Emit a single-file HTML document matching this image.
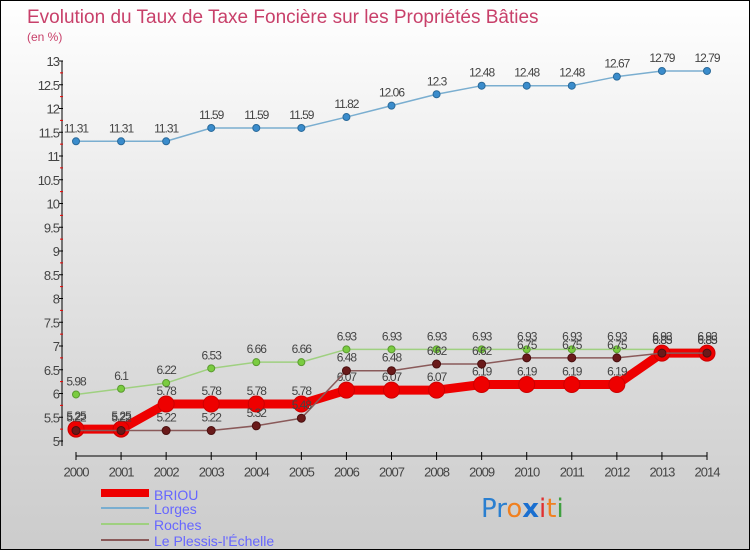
<!DOCTYPE html>
<html><head><meta charset="utf-8"><style>
body{margin:0}
#c{position:relative;width:748px;height:548px;border:1px solid #000;background:linear-gradient(#fff 0%,#eee 30%,#d9d9d9 70%,#ccc 100%);font-family:"Liberation Sans",sans-serif;overflow:hidden}
svg{position:absolute;left:0;top:0}
</style></head><body>
<div id="c">
<svg id="s" width="750" height="550">
<text x="26" y="22" font-size="19" fill="#c8406a">Evolution du Taux de Taxe Foncière sur les Propriétés Bâties</text>
<text x="26" y="40" font-size="12" fill="#c8406a">(en %)</text>
<g id="axes"></g><g id="series"></g>
<g>
<rect x="100" y="488" width="48" height="8" fill="#e00"/>
<text x="153" y="499" font-size="14" fill="#66f">BRIOU</text>
<line x1="100" y1="507" x2="148" y2="507" stroke="#7aaed0" stroke-width="2"/>
<text x="153" y="513" font-size="14" fill="#66f">Lorges</text>
<line x1="100" y1="523" x2="148" y2="523" stroke="#9fd080" stroke-width="2"/>
<text x="153" y="529" font-size="14" fill="#66f">Roches</text>
<line x1="100" y1="539" x2="148" y2="539" stroke="#8a5a5a" stroke-width="2"/>
<text x="153" y="545" font-size="14" fill="#66f">Le Plessis-l'Échelle</text>
</g>
<text x="480" y="516" font-size="26" font-family="'DejaVu Sans',sans-serif"><tspan fill="#2a7fd0">Pr</tspan><tspan fill="#f08020">o</tspan><tspan fill="#1a6fd0" font-weight="bold">x</tspan><tspan fill="#e03030">i</tspan><tspan fill="#f08020">t</tspan><tspan fill="#40a040">i</tspan></text>
</svg>
</div>
<script>
const years=[2000,2001,2002,2003,2004,2005,2006,2007,2008,2009,2010,2011,2012,2013,2014];
const yTicks=[5,5.5,6,6.5,7,7.5,8,8.5,9,9.5,10,10.5,11,11.5,12,12.5,13];
const briou=[5.25,5.25,5.78,5.78,5.78,5.78,6.07,6.07,6.07,6.19,6.19,6.19,6.19,6.85,6.85];
const lorges=[11.31,11.31,11.31,11.59,11.59,11.59,11.82,12.06,12.3,12.48,12.48,12.48,12.67,12.79,12.79];
const roches=[5.98,6.1,6.22,6.53,6.66,6.66,6.93,6.93,6.93,6.93,6.93,6.93,6.93,6.93,6.93];
const plessis=[5.22,5.22,5.22,5.22,5.32,5.48,6.48,6.48,6.62,6.62,6.75,6.75,6.75,6.85,6.85];
const NS="http://www.w3.org/2000/svg";
const X=i=>75+i*(706-75)/(years.length-1);
const Y=v=>440-(v-5)*47.5;
function mk(t,a,p){const e=document.createElementNS(NS,t);for(const k in a)e.setAttribute(k,a[k]);p.appendChild(e);return e;}
const ax=document.getElementById('axes');
let e=mk('line',{x1:61,y1:60,x2:61,y2:445,stroke:'#000'},ax);


e=mk('line',{x1:75,y1:455,x2:706,y2:455,stroke:'#000'},ax);


yTicks.forEach(v=>{
 mk('line',{x1:58,y1:Y(v),x2:62,y2:Y(v),stroke:'#000'},ax);
 if(v<13)mk('line',{x1:59,y1:Y(v+0.25),x2:62,y2:Y(v+0.25),stroke:'#e00'},ax);
 const t=mk('text',{x:58,y:Y(v)+5,'font-size':13,'text-anchor':'end',fill:'#444','letter-spacing':'-1'},ax);
 t.textContent=v;
 
 
});
years.forEach((y,i)=>{
 mk('line',{x1:X(i),y1:451,x2:X(i),y2:459,stroke:'#000'},ax);
 const t=mk('text',{x:X(i),y:466+0,'font-size':13,'text-anchor':'middle',fill:'#444','dominant-baseline':'hanging','letter-spacing':'-1'},ax);
 t.textContent=y;
 
 
});
const sg=document.getElementById('series');
function series(name,vals,color,w,r,dot,stroke){
 const g=mk('g',{},sg);
 
 
 const p=mk('polyline',{points:vals.map((v,i)=>X(i)+','+Y(v)).join(' '),fill:'none',stroke:color,'stroke-width':w,'stroke-linejoin':'round'},g);
 
 
 vals.forEach((v,i)=>{
  const c=mk('circle',{cx:X(i),cy:Y(v),r:r,fill:dot,stroke:stroke,'stroke-width':1},g);
  
  
  const t=mk('text',{x:X(i),y:Y(v)-9,'font-size':12,'text-anchor':'middle',fill:'#444','letter-spacing':'-1'},g);
  t.textContent=v;
  
  
 });
}
series('lorges',lorges,'#7aaed0',1.5,3.5,'#3a8ccc','#2a6a9a');
series('roches',roches,'#9fd080',1.5,3.5,'#7acc40','#5a9a30');
series('briou',briou,'#ee0000',9,8,'#ee0000','#c00');
series('plessis',plessis,'#8a5a5a',1.5,4,'#6a1a1a','#4a1010');
</script>
</body></html>
